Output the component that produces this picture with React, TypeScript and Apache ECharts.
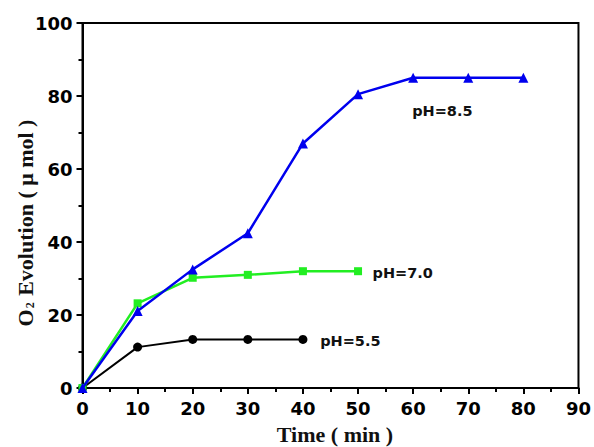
import React, { useEffect, useRef } from "react";
import * as echarts from "echarts";

const times85 = [0, 10, 20, 30, 40, 50, 60, 70, 80];
const values85 = [0, 21.1, 32.5, 42.4, 67, 80.5, 85, 85, 85];
const times70 = [0, 10, 20, 30, 40, 50];
const values70 = [0, 23.2, 30.2, 31.0, 32, 32];
const times55 = [0, 10, 20, 30, 40];
const values55 = [0, 11.2, 13.3, 13.3, 13.3];

const seriesNames = ["pH=8.5", "pH=7.0", "pH=5.5"];
const labelAnchors: [number, number][] = [
  [65.3, 75.9],
  [58.1, 31.5],
  [48.6, 12.9],
];
const xTitle = "Time ( min )";

const pair = (xs: number[], ys: number[]) => xs.map((x, i) => [x, ys[i]]);

export default function App() {
  const ref = useRef<HTMLDivElement>(null);
  useEffect(() => {
    if (!ref.current) return;
    const chart = echarts.init(ref.current, null, { renderer: "svg" });
    const tickFont = {
      fontFamily: "DejaVu Sans, sans-serif",
      fontWeight: "bold" as const,
      fontSize: 18,
      color: "#000",
    };
    const mkLabel = (i: number) => ({
      symbol: "circle",
      symbolSize: 0,
      silent: true,
      label: {
        show: true,
        position: "inside",
        formatter: seriesNames[i],
        fontFamily: "DejaVu Sans, sans-serif",
        fontWeight: "bold",
        fontSize: 14.5,
        color: "#111",
      },
      data: [{ coord: labelAnchors[i] }],
    });
    chart.setOption({
      animation: false,
      backgroundColor: "#fff",
      grid: {
        left: 82.5,
        right: 12,
        top: 23,
        bottom: 59,
        show: true,
        borderColor: "#000",
        borderWidth: 2,
        backgroundColor: "transparent",
      },
      xAxis: {
        type: "value",
        min: 0,
        max: 90,
        interval: 10,
        axisLine: { show: true, lineStyle: { color: "#000", width: 2 } },
        axisTick: { show: true, inside: false, length: 6, lineStyle: { color: "#000", width: 2 } },
        minorTick: { show: true, splitNumber: 2, length: 4, lineStyle: { color: "#000", width: 2 } },
        splitLine: { show: false },
        axisLabel: { ...tickFont, margin: 11 },
      },
      yAxis: {
        type: "value",
        min: 0,
        max: 100,
        interval: 20,
        axisLine: { show: true, lineStyle: { color: "#000", width: 2 } },
        axisTick: { show: true, inside: false, length: 6, lineStyle: { color: "#000", width: 2 } },
        minorTick: { show: true, splitNumber: 2, length: 4, lineStyle: { color: "#000", width: 2 } },
        splitLine: { show: false },
        axisLabel: { ...tickFont, margin: 10 },
      },
      graphic: [
        {
          type: "text",
          x: 335,
          y: 434,
          style: {
            text: xTitle,
            fontFamily: "Liberation Serif, Times New Roman, serif",
            fontWeight: "bold",
            fontSize: 22,
            fill: "#111",
            textAlign: "center",
            textVerticalAlign: "middle",
          },
        },
        {
          type: "text",
          x: 25,
          y: 223,
          rotation: Math.PI / 2,
          style: {
            text: "{a|O}{s|2}{a| Evolution ( μ mol )}",
            textAlign: "center",
            textVerticalAlign: "middle",
            rich: {
              a: {
                fontFamily: "Liberation Serif, Times New Roman, serif",
                fontWeight: "bold",
                fontSize: 22,
                fill: "#111",
              },
              s: {
                fontFamily: "Liberation Serif, Times New Roman, serif",
                fontWeight: "bold",
                fontSize: 12,
                fill: "#111",
                padding: [10, 1, 0, 1],
              },
            },
          },
        },
      ],
      series: [
        {
          name: seriesNames[2],
          type: "line",
          data: pair(times55, values55),
          symbol: "circle",
          symbolSize: 9,
          showAllSymbol: true,
          itemStyle: { color: "#000" },
          lineStyle: { color: "#000", width: 2 },
          markPoint: mkLabel(2),
          z: 3,
        },
        {
          name: seriesNames[1],
          type: "line",
          data: pair(times70, values70),
          symbol: "rect",
          symbolSize: 8,
          showAllSymbol: true,
          itemStyle: { color: "#22ee22" },
          lineStyle: { color: "#22ee22", width: 2.5 },
          markPoint: mkLabel(1),
          z: 4,
        },
        {
          name: seriesNames[0],
          type: "line",
          data: pair(times85, values85),
          symbol: "triangle",
          symbolSize: 10,
          showAllSymbol: true,
          itemStyle: { color: "#0000ee" },
          lineStyle: { color: "#0000ee", width: 2.5 },
          markPoint: mkLabel(0),
          z: 5,
        },
      ],
    });
    return () => chart.dispose();
  }, []);
  return <div ref={ref} style={{ width: 594, height: 447, position: "absolute", left: 0, top: 0 }} />;
}
